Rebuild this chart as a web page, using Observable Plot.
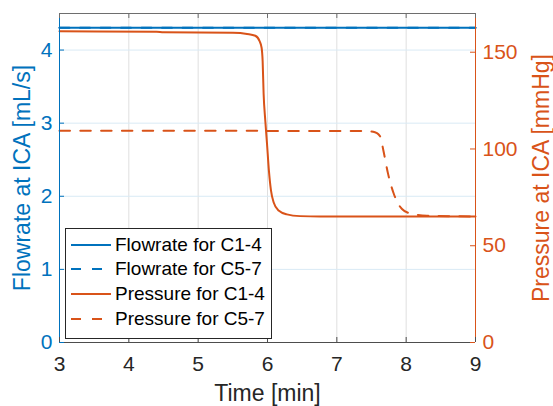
<!DOCTYPE html>
<html><head><meta charset="utf-8">
<script src="https://cdn.jsdelivr.net/npm/d3@7"></script>
<script src="https://cdn.jsdelivr.net/npm/@observablehq/plot@0.6"></script>
<style>
body{margin:0;background:#fff;}
#wrap{position:relative;width:553px;height:406px;font-family:"Liberation Sans",Arial,sans-serif;}
#legend{position:absolute;left:65px;top:228px;width:207px;height:111px;border:1px solid #262626;background:#fff;box-sizing:border-box;}
.row{position:absolute;left:0;height:24px;display:flex;align-items:center;font-size:19px;color:#000;white-space:nowrap;}
.row svg{margin-left:5px;margin-right:4px;}
</style></head><body><div id="wrap"></div>
<script>
// ---- data ----
const flowTime = [3, 9];
const flowC14 = [4.305, 4.305];
const flowC57 = [4.305, 4.305];

const presC14Time = [3, 4.4, 4.5, 5.5, 5.705, 5.824, 5.886, 5.915, 5.93, 5.944, 5.968, 5.993, 6.02, 6.05, 6.088, 6.16, 6.28, 6.47, 6.76, 9];
const presC14 = [160.8, 160.6, 160.3, 160.0, 159.4, 158.5, 155.7, 152.3, 145.4, 128.5, 114.7, 102.7, 88.9, 78.6, 72.5, 68.2, 66.2, 65.3, 65.1, 65.1];

const presC57Time = [3, 7.4, 7.55, 7.6, 7.63, 7.67, 7.74, 7.82, 7.88, 7.94, 8.06, 8.3, 9];
const presC57 = [109.4, 109.3, 108.6, 107.6, 106, 99.5, 87, 77, 72, 69, 66.7, 65.5, 65.1];

const xTicks = [3, 4, 5, 6, 7, 8, 9];
const flowTicks = [0, 1, 2, 3, 4];
const presTicks = [0, 50, 100, 150];
const flowMax = 4.5, presMax = 170;

const legendItems = ["Flowrate for C1-4", "Flowrate for C5-7", "Pressure for C1-4", "Pressure for C5-7"];

// ---- build ----
const blue = "#0072BD", orange = "#D95319", dark = "#262626";
const toFlow = p => p * flowMax / presMax;
const W = 553, H = 406, mL = 59, mR = 78, mT = 13, mB = 64;
const innerW = W - mL - mR, innerH = H - mT - mB;

const flowRows = flowTime.map((t, i) => ({t, a: flowC14[i], b: flowC57[i]}));
const p14 = presC14Time.map((t, i) => ({t, v: toFlow(presC14[i])}));
const p57 = presC57Time.map((t, i) => ({t, v: toFlow(presC57[i])}));

const chart = Plot.plot({
  width: W, height: H,
  marginLeft: mL, marginRight: mR, marginTop: mT, marginBottom: mB,
  style: {fontFamily: '"Liberation Sans", Arial, sans-serif', fontSize: "21px", background: "#fff", overflow: "visible"},
  x: {domain: [3, 9]},
  y: {domain: [0, flowMax]},
  marks: [
    Plot.ruleX(xTicks.slice(1, -1), {x: d => d, stroke: "#dfdfdf", strokeWidth: 1}),
    Plot.ruleY(flowTicks.slice(1), {y: d => d, stroke: "#d9eaf5", strokeWidth: 1}),
    Plot.line(flowRows, {x: "t", y: "b", stroke: blue, strokeWidth: 2, strokeDasharray: "10,10.5"}),
    Plot.line(flowRows, {x: "t", y: "a", stroke: blue, strokeWidth: 2}),
    Plot.line(p14, {x: "t", y: "v", stroke: orange, strokeWidth: 2, curve: "monotone-x"}),
    Plot.line(p57, {x: "t", y: "v", stroke: orange, strokeWidth: 2, strokeDasharray: "10.5,10.3", curve: "monotone-x"}),
    // axis lines
    Plot.ruleY([0], {stroke: "#4d4d4d"}),
    Plot.ruleY([flowMax], {stroke: "#6e6e6e"}),
    Plot.ruleX([3], {stroke: blue}),
    Plot.ruleX([9], {stroke: orange}),
    // inward ticks
    Plot.ruleX(xTicks, {x: d => d, insetTop: innerH - 5, stroke: "#4d4d4d"}),
    Plot.ruleX(xTicks, {x: d => d, insetBottom: innerH - 5, stroke: "#6e6e6e"}),
    Plot.ruleY(flowTicks, {y: d => d, insetRight: innerW - 5, stroke: blue}),
    Plot.ruleY(presTicks.map(toFlow), {y: d => d, insetLeft: innerW - 5, stroke: orange}),
    // tick labels
    Plot.axisX(xTicks, {anchor: "bottom", tickSize: 0, tickPadding: 14, color: dark, fontSize: 21, label: null, tickFormat: d => String(d)}),
    Plot.axisY(flowTicks, {anchor: "left", tickSize: 0, tickPadding: 7, color: blue, fontSize: 21, label: null, tickFormat: d => String(d)}),
    Plot.axisY(presTicks.map(toFlow), {anchor: "right", tickSize: 0, tickPadding: 7, color: orange, fontSize: 21, label: null,
      tickFormat: d => String(Math.round(d * presMax / flowMax))}),
    // axis titles
    Plot.text(["Flowrate at ICA [mL/s]"], {frameAnchor: "left", dx: -36.5, rotate: -90, textAnchor: "middle", lineAnchor: "middle", fill: blue, fontSize: 23}),
    Plot.text(["Pressure at ICA [mmHg]"], {frameAnchor: "right", dx: 66, rotate: -90, textAnchor: "middle", lineAnchor: "middle", fill: orange, fontSize: 23}),
    Plot.text(["Time [min]"], {frameAnchor: "bottom", dy: 51, textAnchor: "middle", lineAnchor: "middle", fill: dark, fontSize: 23})
  ]
});

const wrap = document.getElementById("wrap");
wrap.appendChild(chart);

// legend
const legend = document.createElement("div");
legend.id = "legend";
const styles = [
  {c: blue, dash: null}, {c: blue, dash: "10,11"},
  {c: orange, dash: null}, {c: orange, dash: "10,11"}
];
const rowCenters = [15.5, 40, 65, 89.5];
legendItems.forEach((label, i) => {
  const row = document.createElement("div");
  row.className = "row";
  row.style.top = (rowCenters[i] - 12) + "px";
  const s = styles[i];
  row.innerHTML = `<svg width="40" height="6"><line x1="0" x2="40" y1="3" y2="3" stroke="${s.c}" stroke-width="2" ${s.dash ? `stroke-dasharray="${s.dash}"` : ""}/></svg><span>${label}</span>`;
  legend.appendChild(row);
});
wrap.appendChild(legend);
</script>
</body></html>
